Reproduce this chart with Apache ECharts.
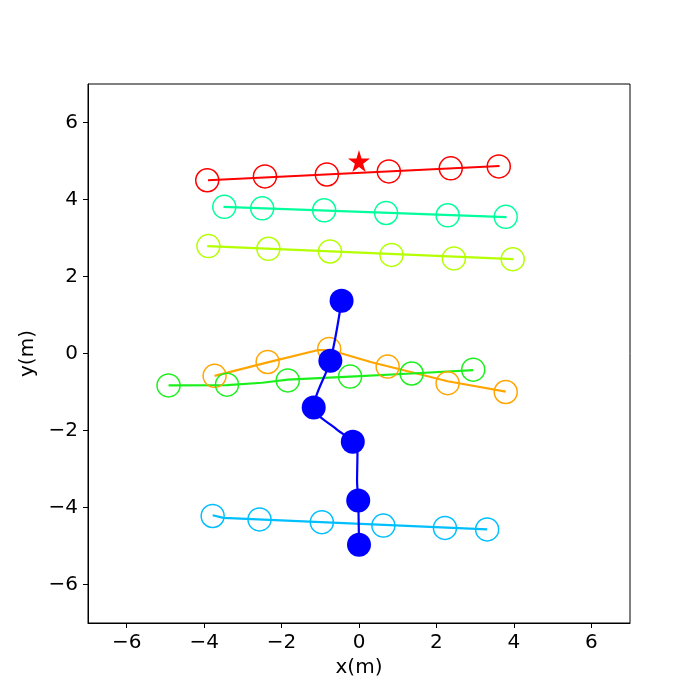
<!DOCTYPE html>
<html>
<head>
<meta charset="utf-8">
<script src="https://cdn.jsdelivr.net/npm/echarts@6/dist/echarts.min.js"></script>
<style>
  html, body { margin: 0; padding: 0; background: #fff; }
  #main { width: 700px; height: 700px; }
</style>
</head>
<body>
<div id="main"></div>
<script>
// tick labels
var ticks = [-6, -4, -2, 0, 2, 4, 6];

// goal (star)
var goal = [0, 5.0];

// open-circle agents: sampled positions
var redX = [-3.92, -2.43, -0.83, 0.77, 2.37, 3.61];
var redY = [4.50, 4.60, 4.65, 4.73, 4.81, 4.86];
var springX = [-3.48, -2.50, -0.90, 0.70, 2.29, 3.79];
var springY = [3.81, 3.77, 3.72, 3.65, 3.59, 3.55];
var limeX = [-3.89, -2.34, -0.75, 0.84, 2.45, 3.97];
var limeY = [2.79, 2.72, 2.65, 2.56, 2.47, 2.45];
var orangeX = [-3.73, -2.36, -0.77, 0.74, 2.29, 3.79];
var orangeY = [-0.58, -0.22, 0.12, -0.34, -0.77, -1.00];
var greenX = [-4.92, -3.41, -1.84, -0.23, 1.36, 2.95];
var greenY = [-0.83, -0.81, -0.70, -0.60, -0.52, -0.42];
var skyX = [-3.78, -2.57, -0.96, 0.63, 2.22, 3.31];
var skyY = [-4.22, -4.31, -4.38, -4.47, -4.53, -4.57];

// trajectories
var redPathX = [-3.90, 3.63];
var redPathY = [4.50, 4.87];
var springPathX = [-3.50, 3.81];
var springPathY = [3.81, 3.54];
var limePathX = [-3.92, 3.99];
var limePathY = [2.79, 2.45];
var orangePathX = [-3.73, -2.36, -1.05, -0.75, 0.30, 0.74, 2.29, 3.79];
var orangePathY = [-0.58, -0.23, 0.09, 0.09, -0.22, -0.33, -0.72, -0.99];
var greenPathX = [-4.92, -3.41, -2.50, -1.84, -0.23, 1.36, 2.95];
var greenPathY = [-0.83, -0.82, -0.76, -0.68, -0.60, -0.52, -0.43];
var skyPathX = [-3.78, -3.50, 3.31];
var skyPathY = [-4.20, -4.27, -4.57];

// robot (filled blue)
var blueX = [-0.45, -0.74, -1.17, -0.16, -0.02, 0.00];
var blueY = [1.37, -0.19, -1.40, -2.29, -3.82, -4.97];
var bluePathX = [-0.45, -0.74, -1.17, -0.60, -0.16, -0.04, -0.05, -0.02, 0.00];
var bluePathY = [1.37, -0.19, -1.40, -1.95, -2.29, -2.60, -3.30, -3.82, -4.97];

function zip(xs, ys) {
  return xs.map(function (x, i) { return [x, ys[i]]; });
}

var agents = [
  { c: '#ff0000', x: redX, y: redY, px: redPathX, py: redPathY },
  { c: '#00ff9c', x: springX, y: springY, px: springPathX, py: springPathY },
  { c: '#b4ff00', x: limeX, y: limeY, px: limePathX, py: limePathY },
  { c: '#ffa500', x: orangeX, y: orangeY, px: orangePathX, py: orangePathY },
  { c: '#1cf01c', x: greenX, y: greenY, px: greenPathX, py: greenPathY },
  { c: '#00bfff', x: skyX, y: skyY, px: skyPathX, py: skyPathY }
];

function fmt(v) {
  return v < 0 ? '\u2212' + Math.abs(v) : String(v);
}

var series = [];
agents.forEach(function (a) {
  series.push({
    type: 'line',
    data: zip(a.px, a.py),
    showSymbol: false,
    lineStyle: { color: a.c, width: 2.2 },
    silent: true,
    z: 2
  });
  series.push({
    type: 'scatter',
    data: zip(a.x, a.y),
    symbol: 'circle',
    symbolSize: 23,
    itemStyle: { color: 'rgba(0,0,0,0)', borderColor: a.c, borderWidth: 1.5, opacity: 1 },
    silent: true,
    z: 3
  });
});

series.push({
  type: 'line',
  data: zip(bluePathX, bluePathY),
  showSymbol: false,
  smooth: 0.3,
  lineStyle: { color: '#0000ff', width: 2.2 },
  silent: true,
  z: 4
});
series.push({
  type: 'scatter',
  data: zip(blueX, blueY),
  symbol: 'circle',
  symbolSize: 24,
  itemStyle: { color: '#0000ff', opacity: 1 },
  silent: true,
  z: 5
});
series.push({
  type: 'scatter',
  data: [goal],
  symbol: 'path://M50,0 L61,35 L98,35 L68,57 L79,91 L50,70 L21,91 L32,57 L2,35 L39,35 Z',
  symbolSize: 22,
  itemStyle: { color: '#ff0000', opacity: 1 },
  silent: true,
  z: 6
});

var axisCommon = {
  type: 'value',
  min: -7,
  max: 7,
  nameLocation: 'middle',
  nameTextStyle: { fontFamily: 'DejaVu Sans', fontSize: 20, color: '#000' },
  axisLine: { show: true, onZero: false, lineStyle: { color: '#000', width: 1 } },
  axisTick: { show: true, inside: false, length: 5, customValues: ticks, lineStyle: { color: '#000' } },
  axisLabel: {
    customValues: ticks,
    formatter: fmt,
    fontFamily: 'DejaVu Sans',
    fontSize: 20,
    color: '#000',
    margin: 10
  },
  splitLine: { show: false }
};

var chart = echarts.init(document.getElementById('main'));
chart.setOption({
  animation: false,
  backgroundColor: '#fff',
  grid: {
    left: 88, right: 70, top: 84, bottom: 77,
    show: true, borderColor: '#000', borderWidth: 1,
    containLabel: false
  },
  xAxis: Object.assign({}, axisCommon, { name: 'x(m)', nameGap: 33 }),
  yAxis: Object.assign({}, axisCommon, { name: 'y(m)', nameGap: 50 }),
  series: series
});
</script>
</body>
</html>
